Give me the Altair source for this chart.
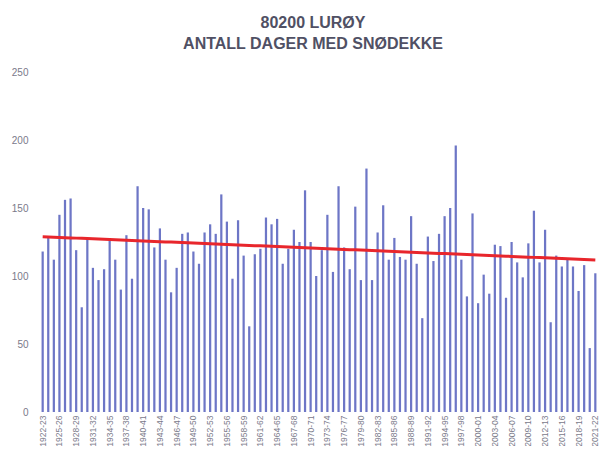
import altair as alt
import pandas as pd
import numpy as np

start_years = list(range(1922, 2022))
seasons = [f"{y}-{str(y + 1)[-2:]}" for y in start_years]

days = [118, 129, 112, 145, 156, 157, 119, 77, 127, 106,
        97, 105, 127, 112, 90, 130, 98, 166, 150, 149,
        121, 135, 112, 88, 106, 131, 132, 118, 109, 132,
        138, 131, 160, 140, 98, 141, 115, 63, 116, 120,
        143, 138, 142, 109, 120, 134, 125, 163, 125, 100,
        119, 145, 103, 166, 121, 105, 151, 97, 179, 97,
        132, 152, 112, 128, 114, 112, 144, 109, 69, 129,
        111, 131, 144, 150, 196, 112, 85, 146, 80, 101,
        87, 123, 122, 84, 125, 110, 99, 124, 148, 110,
        134, 66, 115, 107, 112, 107, 89, 108, 47, 102]

tick_labels = seasons[::3]
y_ticks = [0, 50, 100, 150, 200, 250]

idx = np.arange(len(days))
slope, intercept = np.polyfit(idx, np.array(days, dtype=float), 1)
df = pd.DataFrame({"season": seasons, "days": days, "trend": intercept + slope * idx})

x_enc = alt.X("season:O", sort=seasons,
              scale=alt.Scale(paddingInner=0.6, paddingOuter=0.1),
              axis=alt.Axis(values=tick_labels, labelAngle=-90, title=None,
                            domain=False, ticks=False, tickSize=0, labelPadding=3,
                            labelFont="Liberation Sans", labelFontSize=8.5,
                            labelColor="#7a7a8a"))
y_scale = alt.Scale(domain=[0, 250], nice=False)

bars = alt.Chart(df).mark_bar(color="#6d76c6").encode(
    x=x_enc,
    y=alt.Y("days:Q", scale=y_scale,
            axis=alt.Axis(values=y_ticks, title=None, grid=False, domain=False,
                          ticks=False, tickSize=0, labelPadding=13,
                          labelFont="Liberation Sans", labelFontSize=10,
                          labelColor="#7a7a8a")),
)

trend = alt.Chart(df).mark_line(color="#e8262c", strokeWidth=3).encode(
    x=alt.X("season:O", sort=seasons),
    y=alt.Y("trend:Q", scale=y_scale),
)

chart = alt.layer(bars, trend).properties(
    width=556,
    height=340,
    autosize=alt.AutoSizeParams(type="none"),
    padding={"left": 33, "top": 64, "right": 4, "bottom": 34},
    title=alt.TitleParams(
        ["80200 LURØY", "ANTALL DAGER MED SNØDEKKE"],
        anchor="middle", dx=-6, offset=15, lineHeight=21,
        font="Liberation Sans", fontSize=16, fontWeight="bold", color="#505064"),
).configure_view(stroke=None)

chart.save("out.html", embed_options={"renderer": "svg", "actions": False})
